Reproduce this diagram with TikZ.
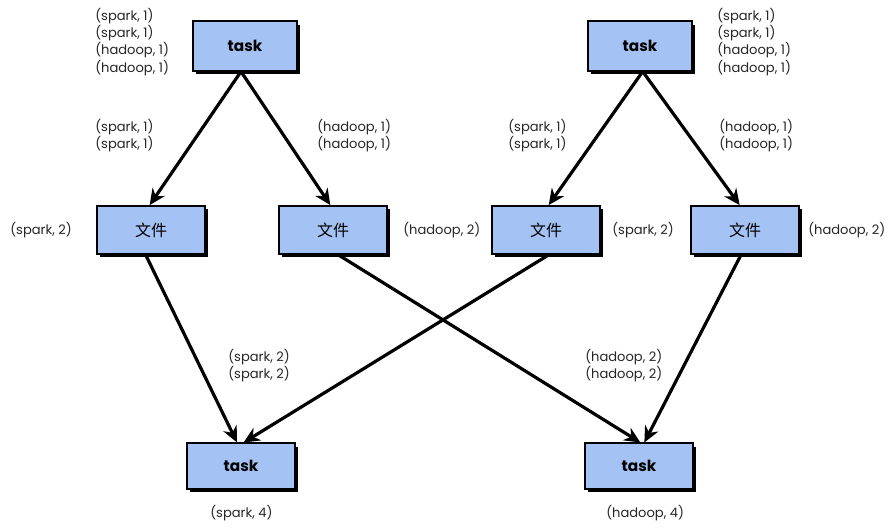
\documentclass[tikz,border=0pt]{standalone}
\usepackage{fontspec}
\setmainfont{Poppins}
\newfontfamily\cjk{Noto Sans CJK SC}
\usetikzlibrary{arrows.meta,shadows}
\definecolor{boxblue}{RGB}{164,194,244}

\begin{document}
\begin{tikzpicture}[x=0.75pt,y=-0.75pt,
box/.style={draw=black,line width=1.3pt,fill=boxblue,minimum width=78pt,minimum height=37pt,
  drop shadow={fill=black,opacity=1,shadow xshift=2.6pt,shadow yshift=-2.6pt},font=\bfseries\fontsize{11.5}{13}\selectfont},
filebox/.style={box,minimum width=81pt,minimum height=36pt,font=\cjk\fontsize{12}{14}\selectfont},
pair/.style={anchor=west,align=left,inner sep=0pt,text=black!85,font=\fontsize{9.8}{12.8}\selectfont},
arr/.style={-{Stealth[length=12pt,width=11pt]},line width=2.4pt}]
\useasboundingbox (0,0) rectangle (888,528);
% boxes
\node[box] (taskA) at (245,46) {task};
\node[box] (taskB) at (640,46) {task};
\node[filebox] (fileA) at (151,230) {文件};
\node[filebox] (fileB) at (333,230) {文件};
\node[filebox] (fileC) at (546,230) {文件};
\node[filebox] (fileD) at (745,230) {文件};
\node[box,minimum width=81pt,minimum height=34pt] (sumA) at (241,466) {task};
\node[box,minimum width=81pt,minimum height=34pt] (sumB) at (639,466) {task};
% labels
\node[pair] (inA) at (95,42) {(spark, 1)\\(spark, 1)\\(hadoop, 1)\\(hadoop, 1)};
\node[pair] (inB) at (717,42) {(spark, 1)\\(spark, 1)\\(hadoop, 1)\\(hadoop, 1)};
\node[pair] (sA) at (95,136) {(spark, 1)\\(spark, 1)};
\node[pair] (hA) at (317,136) {(hadoop, 1)\\(hadoop, 1)};
\node[pair] (sB) at (508,136) {(spark, 1)\\(spark, 1)};
\node[pair] (hB) at (719,136) {(hadoop, 1)\\(hadoop, 1)};
\node[pair] (cA) at (10,230) {(spark, 2)};
\node[pair] (cB) at (403,230) {(hadoop, 2)};
\node[pair] (cC) at (612,230) {(spark, 2)};
\node[pair] (cD) at (808,230) {(hadoop, 2)};
\node[pair] (mA) at (228,366) {(spark, 2)\\(spark, 2)};
\node[pair] (mB) at (585,366) {(hadoop, 2)\\(hadoop, 2)};
\node[pair] (outA) at (210,513) {(spark, 4)};
\node[pair] (outB) at (606,513) {(hadoop, 4)};
% arrows
\draw[arr] ([xshift=-3pt]taskA.south) -- ([xshift=-1pt]fileA.north);
\draw[arr] ([xshift=-3pt]taskA.south) -- ([xshift=-2pt]fileB.north);
\draw[arr] ([xshift=2pt]taskB.south) -- ([xshift=2pt]fileC.north);
\draw[arr] ([xshift=2pt]taskB.south) -- ([xshift=-4pt]fileD.north);
\draw[arr] ([xshift=-4pt]fileA.south) -- ([xshift=-3pt]sumA.north);
\draw[arr] ([xshift=4pt]fileB.south) -- ([xshift=1pt]sumB.north);
\draw[arr] ([xshift=2pt]fileC.south) -- ([xshift=2pt]sumA.north);
\draw[arr] ([xshift=-3pt]fileD.south) -- ([xshift=4pt]sumB.north);
\end{tikzpicture}
\end{document}
